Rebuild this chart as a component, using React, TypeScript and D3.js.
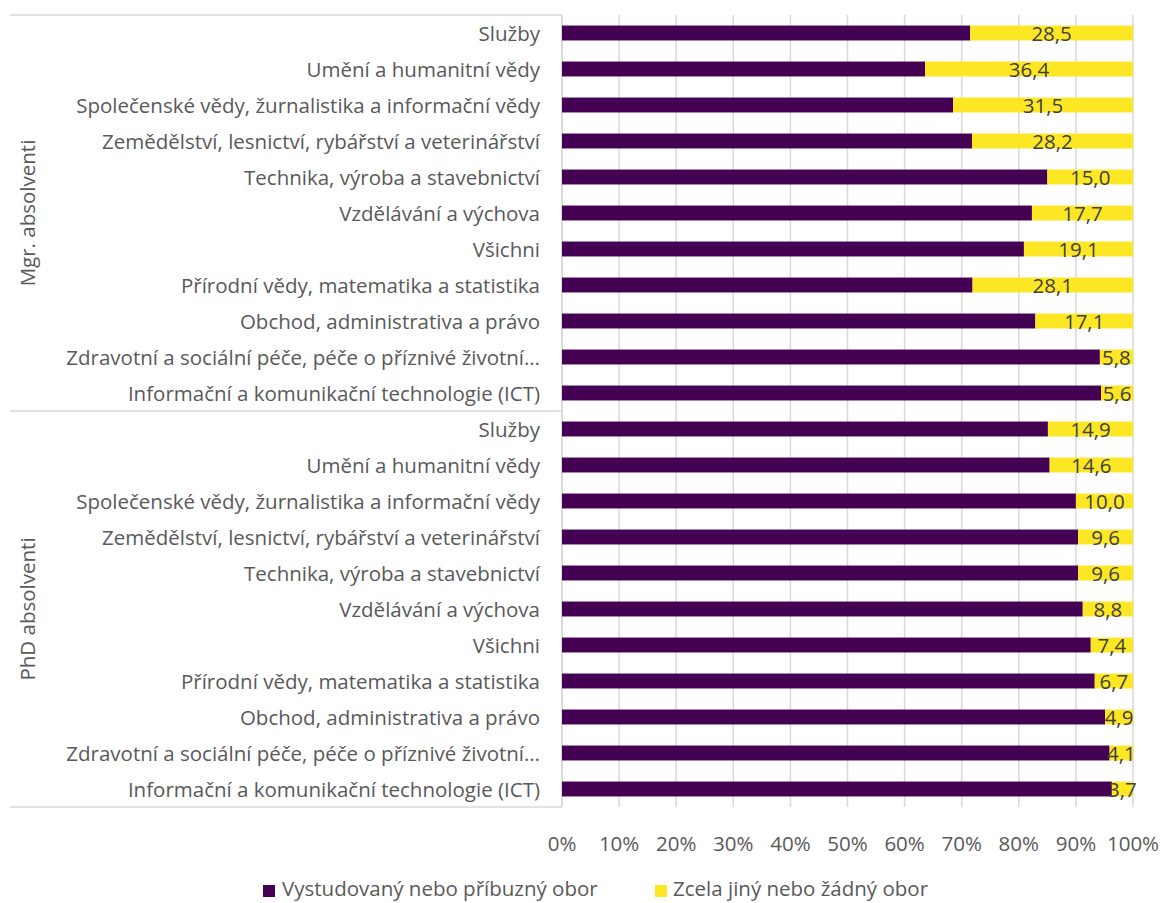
import React from "react";
import * as d3 from "d3";

const categories = [
  "Služby",
  "Umění a humanitní vědy",
  "Společenské vědy, žurnalistika a informační vědy",
  "Zemědělství, lesnictví, rybářství a veterinářství",
  "Technika, výroba a stavebnictví",
  "Vzdělávání a výchova",
  "Všichni",
  "Přírodní vědy, matematika a statistika",
  "Obchod, administrativa a právo",
  "Zdravotní a sociální péče, péče o příznivé životní…",
  "Informační a komunikační technologie (ICT)",
];

const groups = ["Mgr. absolventi", "PhD absolventi"];

const mgrRelated = [71.5, 63.6, 68.5, 71.8, 85.0, 82.3, 80.9, 71.9, 82.9, 94.2, 94.4];
const mgrOther = [28.5, 36.4, 31.5, 28.2, 15.0, 17.7, 19.1, 28.1, 17.1, 5.8, 5.6];
const phdRelated = [85.1, 85.4, 90.0, 90.4, 90.4, 91.2, 92.6, 93.3, 95.1, 95.9, 96.3];
const phdOther = [14.9, 14.6, 10.0, 9.6, 9.6, 8.8, 7.4, 6.7, 4.9, 4.1, 3.7];

const seriesNames = ["Vystudovaný nebo příbuzný obor", "Zcela jiný nebo žádný obor"];
const colors = ["#440154", "#FDE725"];
const ticks = [0, 10, 20, 30, 40, 50, 60, 70, 80, 90, 100];

const FONT = "'Open Sans', sans-serif";
const FS = 20.5;

export default function App() {
  const W = 1163;
  const H = 903;
  const x0 = 562;
  const x1 = 1133;
  const top = 15;
  const bottom = 807;
  const leftEdge = 10;

  const rows = groups.flatMap((g, gi) =>
    categories.map((c, ci) => ({
      key: `${gi}-${ci}`,
      group: gi,
      label: c,
      related: gi === 0 ? mgrRelated[ci] : phdRelated[ci],
      other: gi === 0 ? mgrOther[ci] : phdOther[ci],
    }))
  );

  const x = d3.scaleLinear().domain([0, 100]).range([x0, x1]);
  const y = d3
    .scaleBand<string>()
    .domain(rows.map((r) => r.key))
    .range([top, bottom])
    .paddingInner(0.585)
    .paddingOuter(0.2925);
  const step = y.step();
  const bh = y.bandwidth();

  const groupMid = (gi: number) =>
    top + step * categories.length * gi + (step * categories.length) / 2;

  return (
    <svg width={W} height={H} style={{ display: "block", position: "absolute", left: 0, top: 0 }}>
      <rect width={W} height={H} fill="#fff" />
      {ticks.map((t) => (
        <line key={t} x1={x(t)} x2={x(t)} y1={top} y2={bottom} stroke="#d9d9d9" strokeWidth={1.5} />
      ))}
      <line x1={leftEdge} x2={x0} y1={top} y2={top} stroke="#d9d9d9" strokeWidth={1.5} />
      <line x1={leftEdge} x2={x0} y1={top + step * categories.length} y2={top + step * categories.length} stroke="#d9d9d9" strokeWidth={1.5} />
      <line x1={leftEdge} x2={x0} y1={bottom} y2={bottom} stroke="#d9d9d9" strokeWidth={1.5} />
      <line x1={x0} x2={x0} y1={top} y2={bottom} stroke="#d9d9d9" strokeWidth={1.5} />
      {rows.map((r) => {
        const yy = y(r.key)!;
        const cy = yy + bh / 2;
        const xr = x(r.related);
        const xo = x(r.related + r.other);
        return (
          <g key={r.key}>
            <rect x={x(0)} y={yy} width={xr - x(0)} height={bh} fill={colors[0]} />
            <rect x={xr} y={yy} width={xo - xr} height={bh} fill={colors[1]} />
            <text x={(xr + xo) / 2} y={cy + 7.5} textAnchor="middle" fontFamily={FONT} fontSize={FS} fill="#404040">
              {r.other.toFixed(1).replace(".", ",")}
            </text>
            <text x={540} y={cy + 7.5} textAnchor="end" fontFamily={FONT} fontSize={FS} fill="#595959">
              {r.label}
            </text>
          </g>
        );
      })}
      {groups.map((g, gi) => (
        <text
          key={g}
          transform={`translate(35,${groupMid(gi)}) rotate(-90)`}
          textAnchor="middle"
          fontFamily={FONT}
          fontSize={FS}
          fill="#595959"
        >
          {g}
        </text>
      ))}
      {ticks.map((t) => (
        <text key={t} x={x(t)} y={851} textAnchor="middle" fontFamily={FONT} fontSize={FS} fill="#595959">
          {`${t}%`}
        </text>
      ))}
      <rect x={263} y={885} width={12} height={12} fill={colors[0]} />
      <text x={282} y={896} fontFamily={FONT} fontSize={FS} fill="#595959">
        {seriesNames[0]}
      </text>
      <rect x={655} y={885} width={12} height={12} fill={colors[1]} />
      <text x={673} y={896} fontFamily={FONT} fontSize={FS} fill="#595959">
        {seriesNames[1]}
      </text>
    </svg>
  );
}
